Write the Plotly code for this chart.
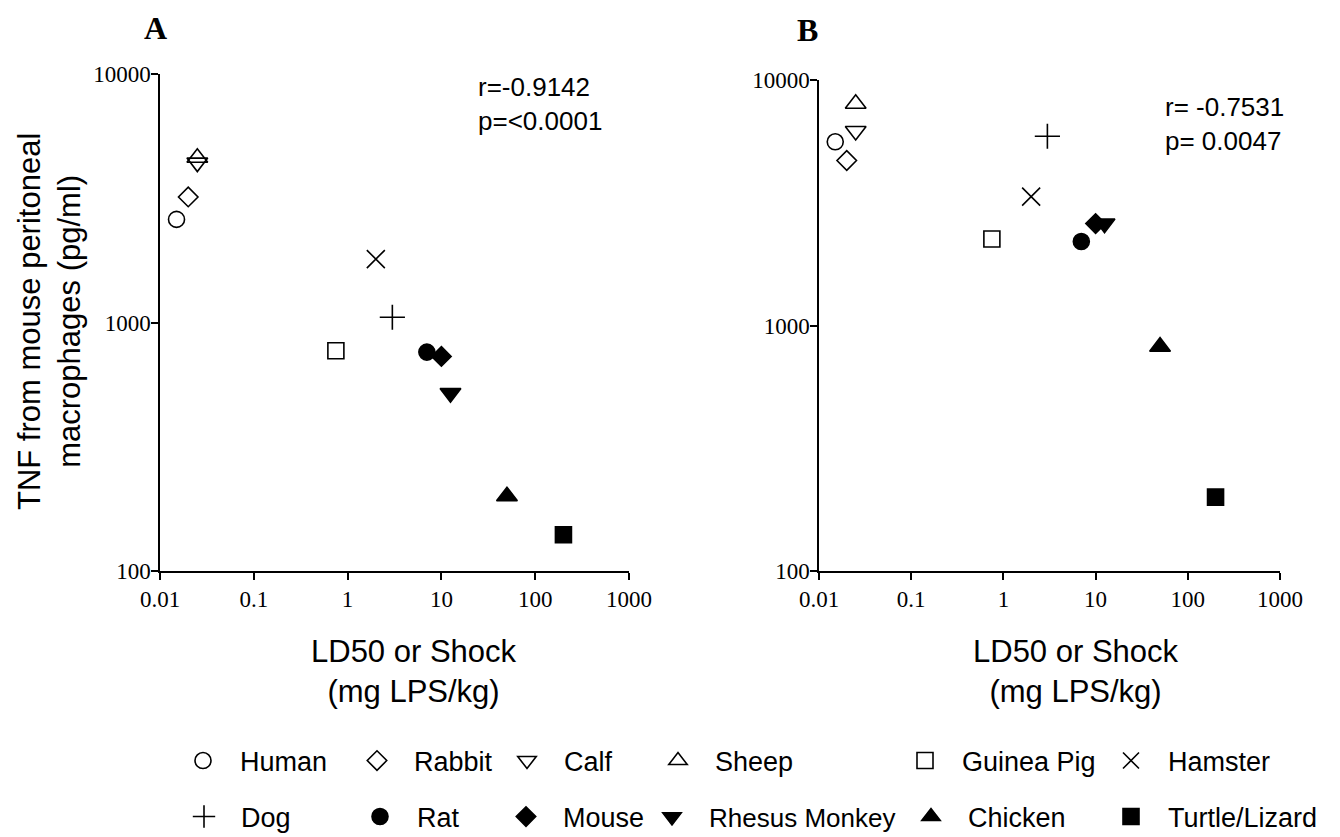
import plotly.graph_objects as go

species = ["Human", "Rabbit", "Calf", "Sheep", "Guinea Pig", "Hamster",
           "Dog", "Rat", "Mouse", "Rhesus Monkey", "Chicken", "Turtle/Lizard"]
# Panel A values (LD50 mg LPS/kg, TNF pg/ml)
ld50_a = [0.015, 0.02, 0.025, 0.025, 0.75, 2, 3, 7, 10, 12.5, 50, 200]
tnf_a = [2600, 3200, 4400, 4600, 770, 1800, 1050, 760, 730, 520, 200, 140]
# Panel B values
ld50_b = [0.015, 0.02, 0.025, 0.025, 0.75, 2, 3, 7, 10, 12.5, 50, 200]
tnf_b = [5600, 4700, 6200, 8000, 2250, 3350, 5900, 2200, 2600, 2600, 820, 200]

x_ticks = [0.01, 0.1, 1, 10, 100, 1000]
x_ticktext = ["0.01", "0.1", "1", "10", "100", "1000"]
y_ticks = [100, 1000, 10000]
y_ticktext = ["100", "1000", "10000"]

symbols = ["circle-open", "diamond-open", "triangle-down-open", "triangle-up-open",
           "square-open", "x-thin-open", "cross-thin-open", "circle", "diamond",
           "triangle-down", "triangle-up", "square"]
sizes = [16, 15, 18, 18, 16, 18, 18, 16, 15, 18, 18, 16]

# legend layout: symbol centre x (px), row y (px)
leg_x = [203, 377, 527, 678, 925, 1131, 204, 380, 526, 672, 931, 1131]
leg_y = [761, 761, 761, 761, 761, 761, 817, 817, 817, 817, 817, 817]
leg_fs = [27, 27, 27, 27, 27, 27, 27, 27, 27, 26, 27, 27]

W, H = 1340, 837
OFF = 8  # page offset of the plot div


def px(x):
    return (x - OFF) / W


def py(y):
    return (H - (y - OFF)) / H


fig = go.Figure()

for i, sp in enumerate(species):
    lname = "legend" if i == 0 else f"legend{i+1}"
    mk = dict(symbol=symbols[i], size=sizes[i], color="black",
              line=dict(color="black", width=1.6))
    fig.add_trace(go.Scatter(x=[ld50_a[i]], y=[tnf_a[i]], mode="markers", name=sp,
                             marker=mk, xaxis="x", yaxis="y", legend=lname,
                             cliponaxis=False))
    fig.add_trace(go.Scatter(x=[ld50_b[i]], y=[tnf_b[i]], mode="markers", name=sp,
                             marker=mk, xaxis="x2", yaxis="y2", showlegend=False,
                             cliponaxis=False))

axis_common = dict(type="log", showline=True, linecolor="black", linewidth=1.5,
                   ticks="outside", ticklen=7, tickwidth=1.5, tickcolor="black",
                   showgrid=False, zeroline=False, automargin=False,
                   tickfont=dict(family="Liberation Serif", size=23, color="black"))

layout = dict(
    width=W, height=H, margin=dict(l=0, r=0, t=0, b=0, autoexpand=False),
    paper_bgcolor="white", plot_bgcolor="white",
    xaxis=dict(axis_common, range=[-2, 3], domain=[px(160), px(629)], anchor="y",
               tickvals=x_ticks, ticktext=x_ticktext),
    yaxis=dict(axis_common, range=[2, 4], domain=[py(571), py(74)], anchor="x",
               tickvals=y_ticks, ticktext=y_ticktext, ticklabelstandoff=-4),
    xaxis2=dict(axis_common, range=[-2, 3], domain=[px(819), px(1280)], anchor="y2",
                tickvals=x_ticks, ticktext=x_ticktext),
    yaxis2=dict(axis_common, range=[2, 4], domain=[py(571), py(80)], anchor="x2",
                tickvals=y_ticks, ticktext=y_ticktext, ticklabelstandoff=-4),
)

for i in range(len(species)):
    lname = "legend" if i == 0 else f"legend{i+1}"
    layout[lname] = dict(x=px(leg_x[i] - 37), y=py(leg_y[i]),
                         xanchor="left", yanchor="middle", bgcolor="rgba(0,0,0,0)",
                         borderwidth=0, itemwidth=64,
                         font=dict(family="Liberation Sans", size=leg_fs[i], color="black"))

fig.update_layout(**layout)

ann_font = dict(family="Liberation Sans", size=31, color="black")
annotations = [
    dict(text="<b>A</b>", x=px(155), y=1.0, yanchor="top",
         font=dict(family="Liberation Serif", size=32, color="black")),
    dict(text="<b>B</b>", x=px(808), y=py(30), font=dict(family="Liberation Serif", size=32, color="black")),
    dict(text="LD50 or Shock<br>(mg LPS/kg)", x=px(414), y=py(671), font=ann_font),
    dict(text="LD50 or Shock<br>(mg LPS/kg)", x=px(1076), y=py(671), font=ann_font),
    dict(text="TNF from mouse peritoneal<br>macrophages (pg/ml)", x=px(50), y=py(322),
         textangle=-90, font=ann_font),
    dict(text="r=-0.9142<br>p=<0.0001", x=px(476), y=py(104), xanchor="left",
         align="left", font=dict(family="Liberation Sans", size=26, color="black")),
    dict(text="r= -0.7531<br>p= 0.0047", x=px(1163), y=py(124), xanchor="left",
         align="left", font=dict(family="Liberation Sans", size=26, color="black")),
]
for a in annotations:
    a.setdefault("xanchor", "center")
    a.setdefault("yanchor", "middle")
    a.update(xref="paper", yref="paper", showarrow=False)
fig.update_layout(annotations=annotations)

fig.write_html("out.html")
